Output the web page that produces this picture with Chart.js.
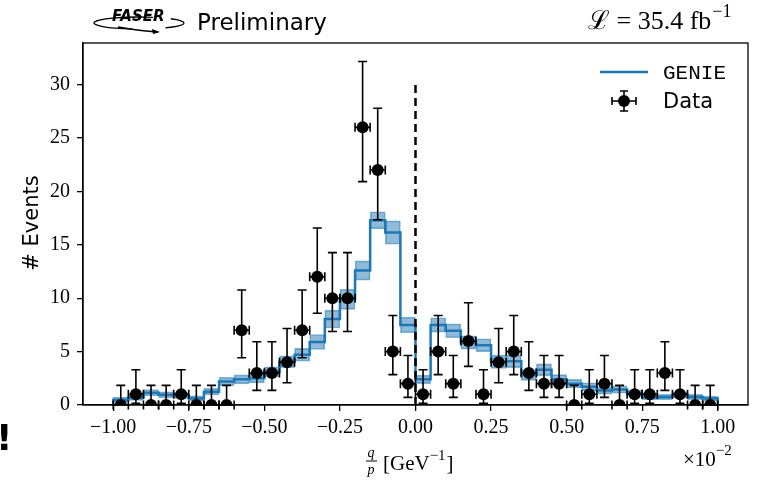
<!DOCTYPE html>
<html lang="en">
<head>
<meta charset="UTF-8">
<title>FASER q/p</title>
<script src="https://cdn.jsdelivr.net/npm/chart.js"></script>
<style>
  body { margin: 0; background: #fff; }
  #wrap { position: relative; width: 763px; height: 481px; }
</style>
</head>
<body>
<div id="wrap"><canvas id="qpChart"></canvas></div>
<script>
// bin centres of q/p (x 10^-2 GeV^-1), 40 bins of width 0.05
const binCenters = [-0.975, -0.925, -0.875, -0.825, -0.775, -0.725, -0.675, -0.625, -0.575, -0.525,
                    -0.475, -0.425, -0.375, -0.325, -0.275, -0.225, -0.175, -0.125, -0.075, -0.025,
                     0.025,  0.075,  0.125,  0.175,  0.225,  0.275,  0.325,  0.375,  0.425,  0.475,
                     0.525,  0.575,  0.625,  0.675,  0.725,  0.775,  0.825,  0.875,  0.925,  0.975];
const binWidth = 0.05;

// observed events and their (asymmetric) error bars
const dataCounts = [0, 1, 0, 0, 1, 0, 0, 0, 7, 3, 3, 4, 7, 12, 10, 10, 26, 22, 5, 2,
                    1, 5, 2, 6, 1, 4, 5, 3, 2, 2, 0, 1, 2, 0, 1, 1, 3, 1, 0, 0];
const dataErrLow = [0, 0.83, 0, 0, 0.83, 0, 0, 0, 2.58, 1.63, 1.63, 1.91, 2.58, 3.41, 3.11, 3.11, 5.08, 4.65, 2.16, 1.29,
                    0.83, 2.16, 1.29, 2.38, 0.83, 1.91, 2.16, 1.63, 1.29, 1.29, 0, 0.83, 1.29, 0, 0.83, 0.83, 1.63, 0.83, 0, 0];
const dataErrHigh = [1.84, 2.30, 1.84, 1.84, 2.30, 1.84, 1.84, 1.84, 3.77, 2.92, 2.92, 3.16, 3.77, 4.58, 4.27, 4.27, 6.17, 5.79, 3.38, 2.64,
                     2.30, 3.38, 2.64, 3.58, 2.30, 3.16, 3.38, 2.92, 2.64, 2.64, 1.84, 2.30, 2.64, 1.84, 2.30, 2.30, 2.92, 2.30, 1.84, 1.84];

// GENIE prediction and band half width
const genieValues = [0.5, 0.7, 1.15, 0.95, 0.9, 0.62, 1.25, 2.2, 2.4, 2.5, 3.1, 4.05, 4.7, 5.9, 8.05, 9.9, 12.6, 17.3, 16.15, 7.5,
                     2.4, 7.5, 6.95, 5.85, 5.6, 4.05, 4.1, 2.8, 3.3, 2.4, 2.0, 1.7, 1.35, 1.45, 1.1, 0.72, 0.75, 0.95, 0.75, 0.6];
const genieErr = [0.25, 0.27, 0.3, 0.28, 0.28, 0.25, 0.3, 0.4, 0.42, 0.43, 0.47, 0.55, 0.6, 0.7, 0.84, 0.94, 0.9, 0.8, 1.1, 0.73,
                  0.4, 0.67, 0.65, 0.62, 0.6, 0.62, 0.6, 0.5, 0.55, 0.45, 0.4, 0.38, 0.33, 0.35, 0.3, 0.25, 0.25, 0.28, 0.25, 0.23];

const xTickValues = [-1.0, -0.75, -0.5, -0.25, 0.0, 0.25, 0.5, 0.75, 1.0];
const yTickValues = [0, 5, 10, 15, 20, 25, 30];

const BLUE = '#1f77b4';
const SERIF = '"Liberation Serif", "DejaVu Serif", serif';
const SANS = '"DejaVu Sans", sans-serif';

// build datasets from the arrays
const bandData = binCenters.map((c, i) => ({ x: c, y: [genieValues[i] - genieErr[i], genieValues[i] + genieErr[i]] }));

const stepData = [{ x: binCenters[0] - binWidth / 2, y: 0 }];
binCenters.forEach((c, i) => stepData.push({ x: c - binWidth / 2, y: genieValues[i] }));
const last = binCenters.length - 1;
stepData.push({ x: binCenters[last] + binWidth / 2, y: genieValues[last] });
stepData.push({ x: binCenters[last] + binWidth / 2, y: 0 });

const pointData = binCenters.map((c, i) => ({ x: c, y: dataCounts[i] }));

function minusSign(v, digits) {
    return v.toFixed(digits).replace('-', '\u2212');
}

// error bars for data + frame, legend and texts
const decorPlugin = {
    id: 'decor',
    beforeDatasetDraw(chart, args) {
        if (chart.data.datasets[args.index].label !== 'Data') return;
        const ctx = chart.ctx;
        const xs = chart.scales.x, ys = chart.scales.y;
        ctx.save();
        ctx.strokeStyle = '#000';
        ctx.lineWidth = 1.6;
        binCenters.forEach((c, i) => {
            const px = xs.getPixelForValue(c);
            const py = ys.getPixelForValue(dataCounts[i]);
            const top = ys.getPixelForValue(dataCounts[i] + dataErrHigh[i]);
            const bot = ys.getPixelForValue(dataCounts[i] - dataErrLow[i]);
            const left = xs.getPixelForValue(c - binWidth / 2);
            const right = xs.getPixelForValue(c + binWidth / 2);
            ctx.beginPath();
            ctx.moveTo(px, top); ctx.lineTo(px, bot);
            ctx.moveTo(px - 4.5, top); ctx.lineTo(px + 4.5, top);
            ctx.moveTo(px - 4.5, bot); ctx.lineTo(px + 4.5, bot);
            ctx.moveTo(left, py); ctx.lineTo(right, py);
            ctx.moveTo(left, py - 4.5); ctx.lineTo(left, py + 4.5);
            ctx.moveTo(right, py - 4.5); ctx.lineTo(right, py + 4.5);
            ctx.stroke();
        });
        ctx.restore();
    },
    afterDraw(chart) {
        const ctx = chart.ctx;
        const a = chart.chartArea;
        ctx.save();
        // frame
        ctx.strokeStyle = '#000';
        ctx.lineWidth = 1.3;
        ctx.strokeRect(a.left, a.top, a.right - a.left, a.bottom - a.top);

        // legend
        ctx.strokeStyle = BLUE;
        ctx.lineWidth = 2.5;
        ctx.beginPath(); ctx.moveTo(600, 72); ctx.lineTo(648, 72); ctx.stroke();
        ctx.fillStyle = '#000';
        ctx.textBaseline = 'middle';
        ctx.font = '21px "Liberation Mono", monospace';
        ctx.fillText('GENIE', 663, 73);
        ctx.font = '21px ' + SANS;
        ctx.fillText('Data', 663, 103);
        ctx.strokeStyle = '#000';
        ctx.lineWidth = 1.6;
        ctx.beginPath();
        ctx.moveTo(624, 91); ctx.lineTo(624, 111);
        ctx.moveTo(620, 91); ctx.lineTo(628, 91);
        ctx.moveTo(620, 111); ctx.lineTo(628, 111);
        ctx.moveTo(612, 101); ctx.lineTo(636, 101);
        ctx.moveTo(612, 97); ctx.lineTo(612, 105);
        ctx.moveTo(636, 97); ctx.lineTo(636, 105);
        ctx.stroke();
        ctx.beginPath(); ctx.arc(624, 101, 6, 0, Math.PI * 2); ctx.fill();

        // y axis title
        ctx.save();
        ctx.translate(33, 223);
        ctx.rotate(-Math.PI / 2);
        ctx.textAlign = 'center';
        ctx.textBaseline = 'middle';
        ctx.font = '21px ' + SANS;
        ctx.fillText('# Events', 0, 0);
        ctx.restore();

        // x axis title: q/p [GeV^-1]
        ctx.textBaseline = 'alphabetic';
        ctx.textAlign = 'center';
        ctx.font = 'italic 14px ' + SERIF;
        ctx.fillText('q', 371, 457);
        ctx.fillText('p', 371, 474);
        ctx.lineWidth = 1;
        ctx.beginPath(); ctx.moveTo(366, 461); ctx.lineTo(377, 461); ctx.stroke();
        ctx.textAlign = 'left';
        ctx.font = '21px ' + SERIF;
        ctx.fillText('[GeV', 383, 470);
        let w = ctx.measureText('[GeV').width;
        ctx.font = '15px ' + SERIF;
        ctx.fillText('\u22121', 383 + w, 460);
        let w2 = ctx.measureText('\u22121').width;
        ctx.font = '21px ' + SERIF;
        ctx.fillText(']', 383 + w + w2 + 1, 470);

        // x10^-2 multiplier
        ctx.font = '21px ' + SERIF;
        ctx.fillText('\u00d710', 683, 466);
        w = ctx.measureText('\u00d710').width;
        ctx.font = '15px ' + SERIF;
        ctx.fillText('\u22122', 683 + w, 455);

        // luminosity
        ctx.font = '26px ' + SERIF;
        const lumi = '\u2112 = 35.4 fb';
        ctx.fillText(lumi, 588, 29);
        w = ctx.measureText(lumi).width;
        ctx.font = '18px ' + SERIF;
        ctx.fillText('\u22121', 588 + w + 1, 17);

        // FASER logo + Preliminary
        ctx.font = '23px ' + SANS;
        ctx.fillText('Preliminary', 197, 30);
        ctx.font = 'italic bold 15px ' + SANS;
        ctx.fillText('FASER', 112, 21);
        ctx.lineWidth = 1.3;
        ctx.beginPath();
        ctx.ellipse(139, 23, 45, 6, 0, Math.PI * 0.55, Math.PI * 1.6);
        ctx.stroke();
        ctx.beginPath();
        ctx.ellipse(139, 23, 45, 6, 0, Math.PI * 1.75, Math.PI * 0.3);
        ctx.stroke();
        ctx.beginPath();
        ctx.moveTo(118, 27); ctx.quadraticCurveTo(140, 31, 158, 32);
        ctx.stroke();
        ctx.beginPath();
        ctx.moveTo(160, 32); ctx.lineTo(152, 29); ctx.lineTo(153, 34); ctx.closePath(); ctx.fill();

        // stray glyph at the left edge
        ctx.font = 'bold 36px ' + SANS;
        ctx.fillText('!', -4, 450);
        ctx.restore();
    }
};

const ctx = document.getElementById('qpChart').getContext('2d');
new Chart(ctx, {
    type: 'bar',
    data: {
        datasets: [
            {
                type: 'line',
                label: 'Data',
                data: pointData,
                showLine: false,
                pointRadius: 6,
                pointBackgroundColor: '#000',
                pointBorderColor: '#000',
                pointBorderWidth: 0,
                order: 0
            },
            {
                type: 'line',
                label: 'zero',
                data: [{ x: 0, y: 0 }, { x: 0, y: 30 }],
                borderColor: '#000',
                borderWidth: 2.5,
                borderDash: [8, 5],
                pointRadius: 0,
                order: 1
            },
            {
                type: 'line',
                label: 'GENIE',
                data: stepData,
                stepped: 'before',
                borderColor: BLUE,
                borderWidth: 2.5,
                pointRadius: 0,
                fill: false,
                order: 2
            },
            {
                type: 'bar',
                label: 'GENIE band',
                data: bandData,
                backgroundColor: 'rgba(31,119,180,0.5)',
                borderColor: 'rgba(31,119,180,0.55)',
                borderWidth: 1,
                borderSkipped: false,
                barPercentage: 1,
                categoryPercentage: 1,
                order: 3
            }
        ]
    },
    options: {
        responsive: true,
        maintainAspectRatio: false,
        animation: false,
        events: [],
        layout: { padding: { top: 43, right: 15, left: 0, bottom: 0 } },
        plugins: { legend: { display: false }, tooltip: { enabled: false } },
        scales: {
            x: {
                type: 'linear',
                min: -1.1,
                max: 1.1,
                offset: false,
                afterBuildTicks: s => { s.ticks = xTickValues.map(v => ({ value: v })); },
                afterFit: s => { s.height = 76; },
                grid: { offset: false, drawOnChartArea: false, drawTicks: true, tickLength: 6, color: '#000', lineWidth: 1.3 },
                border: { display: true, color: '#000', width: 1.3 },
                ticks: {
                    color: '#000',
                    padding: 5,
                    maxRotation: 0,
                    autoSkip: false,
                    font: { family: SERIF, size: 20 },
                    callback: v => minusSign(v, 2)
                }
            },
            y: {
                type: 'linear',
                min: 0,
                max: 33.9,
                afterBuildTicks: s => { s.ticks = yTickValues.map(v => ({ value: v })); },
                afterFit: s => { s.width = 83; },
                grid: { drawOnChartArea: false, drawTicks: true, tickLength: 6, color: '#000', lineWidth: 1.3 },
                border: { display: true, color: '#000', width: 1.3 },
                ticks: {
                    color: '#000',
                    padding: 7,
                    autoSkip: false,
                    font: { family: SERIF, size: 20 },
                    callback: v => String(v)
                }
            }
        }
    },
    plugins: [decorPlugin]
});
</script>
</body>
</html>
